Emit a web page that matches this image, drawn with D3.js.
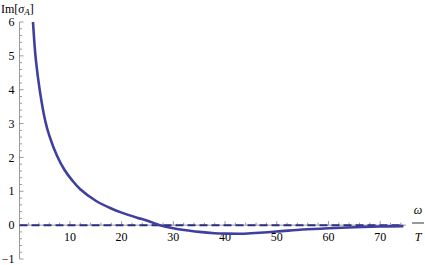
<!DOCTYPE html>
<html>
<head>
<meta charset="utf-8">
<script src="https://cdn.jsdelivr.net/npm/d3@7"></script>
<style>
  body { margin: 0; background: #fff; }
  svg { display: block; }
  svg text { font-family: "Times New Roman", "Liberation Serif", "DejaVu Serif", serif; font-size: 12px; }
</style>
</head>
<body>
<svg id="chart"></svg>
<script>
// values
const omega = [2.86, 3.4, 4.2, 5.2, 6, 7.5, 9, 10.4, 12, 15, 18, 20, 23, 25, 27.4, 30, 33, 35, 38, 40, 43, 45, 50, 55, 60, 65, 70, 74.5]
const imSigma = [6.0, 4.9, 3.95, 3.1, 2.65, 2.05, 1.62, 1.33, 1.06, 0.72, 0.49, 0.37, 0.22, 0.13, 0.0, -0.09, -0.16, -0.2, -0.24, -0.25, -0.255, -0.24, -0.19, -0.13, -0.09, -0.06, -0.04, -0.03]
const xTicks = [10, 20, 30, 40, 50, 60, 70]
const yTicks = [-1, 0, 1, 2, 3, 4, 5, 6]

const width = 425, height = 265
const svg = d3.select('#chart').attr('width', width).attr('height', height)

const x = d3.scaleLinear().domain([0.25, 75]).range([19.5, 406])
const y = d3.scaleLinear().domain([-1, 6]).range([259, 22])

const axisColor = '#999'
const lineColor = '#3f3f9f'

// y axis
const gy = svg.append('g').attr('transform', `translate(${x(0.25)},0)`)
gy.append('line').attr('y1', y(-1)).attr('y2', y(6)).attr('stroke', axisColor)
const yMinor = d3.range(-1, 6.0001, 0.2).map(v => +v.toFixed(1))
gy.selectAll('.ym').data(yMinor).enter().append('line')
  .attr('x1', 0).attr('x2', d => Number.isInteger(d) ? 4 : 2.5)
  .attr('y1', d => y(d)).attr('y2', d => y(d))
  .attr('stroke', axisColor)
gy.selectAll('.yl').data(yTicks).enter().append('text')
  .attr('x', -5).attr('y', d => y(d)).attr('dy', '0.35em')
  .attr('text-anchor', 'end')
  .text(d => d < 0 ? '\u2212' + Math.abs(d) : d)

// x axis
const gx = svg.append('g').attr('transform', `translate(0,${y(0)})`)
gx.append('line').attr('x1', x(0.25)).attr('x2', x(75)).attr('stroke', axisColor)
const xMinor = d3.range(2, 75, 2)
gx.selectAll('.xm').data(xMinor).enter().append('line')
  .attr('x1', d => x(d)).attr('x2', d => x(d))
  .attr('y1', 0).attr('y2', d => d % 10 === 0 ? -4 : -2.5)
  .attr('stroke', axisColor)
gx.selectAll('.xl').data(xTicks).enter().append('text')
  .attr('x', d => x(d)).attr('y', 16)
  .attr('text-anchor', 'middle')
  .text(d => d)

// dashed zero line
svg.append('line')
  .attr('x1', x(0.25)).attr('x2', x(74.5))
  .attr('y1', y(0)).attr('y2', y(0))
  .attr('stroke', '#2e2e80').attr('stroke-width', 2)
  .attr('stroke-dasharray', '8,4')

// curve
const line = d3.line().x((d, i) => x(omega[i])).y(d => y(d)).curve(d3.curveCatmullRom.alpha(0.5))
svg.append('path')
  .datum(imSigma)
  .attr('d', line)
  .attr('fill', 'none')
  .attr('stroke', lineColor)
  .attr('stroke-width', 2.6)

// axis labels
const yl = svg.append('text').attr('x', 1).attr('y', 13)
yl.append('tspan').text('Im[')
yl.append('tspan').attr('font-style', 'italic').text('\u03c3')
yl.append('tspan').attr('font-style', 'italic').style('font-size', '9px').attr('dy', 2).text('A')
yl.append('tspan').attr('dy', -2).text(']')

svg.append('text').attr('x', 418).attr('y', 214).attr('text-anchor', 'middle')
  .attr('font-style', 'italic').text('\u03c9')
svg.append('line').attr('x1', 412).attr('x2', 424).attr('y1', 223).attr('y2', 223)
  .attr('stroke', '#000').attr('stroke-width', 0.8)
svg.append('text').attr('x', 418).attr('y', 241).attr('text-anchor', 'middle')
  .attr('font-style', 'italic').text('T')
</script>
</body>
</html>
